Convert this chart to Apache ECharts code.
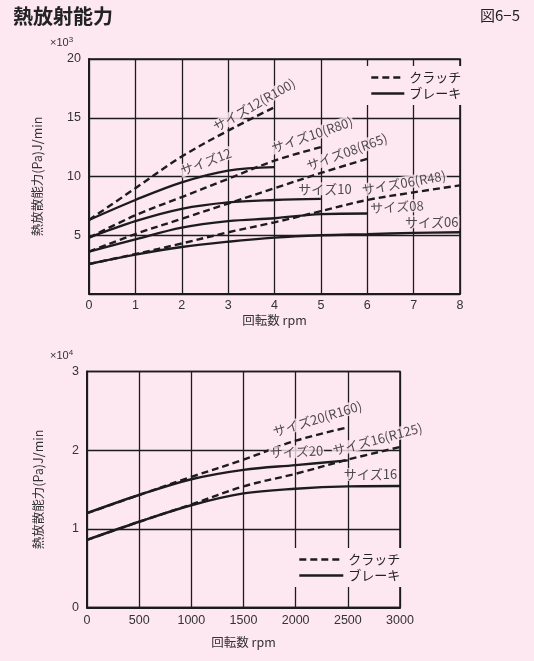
<!DOCTYPE html>
<html>
<head>
<meta charset="utf-8">
<script src="https://cdn.jsdelivr.net/npm/echarts@6/dist/echarts.min.js"></script>
<style>
  html, body { margin: 0; padding: 0; background: #fde7f1; }
  #chart { width: 534px; height: 661px; }
</style>
</head>
<body>
<div id="chart"></div>
<script>
// ---- upper chart: heat dissipation (x10^3 J/min) vs speed ----
const rpmTop = [0, 1, 2, 3, 4, 5, 6, 7, 8];
const clutch12 = [6.3, 9.0, 11.7, 13.9, 15.9];
const brake12  = [6.3, 8.0, 9.5, 10.5, 10.8];
const clutch10 = [4.8, 6.7, 8.25, 9.8, 11.35, 12.5];
const brake10  = [4.8, 6.2, 7.25, 7.8, 8.0, 8.1];
const clutch08 = [3.6, 5.1, 6.4, 7.7, 9.0, 10.3, 11.5];
const brake08  = [3.6, 4.65, 5.65, 6.2, 6.45, 6.8, 6.85];
const clutch06 = [2.55, 3.4, 4.3, 5.25, 6.1, 7.05, 8.0, 8.65, 9.25];
const brake06  = [2.55, 3.35, 4.0, 4.45, 4.8, 5.0, 5.1, 5.2, 5.25];

// ---- lower chart: heat dissipation (x10^4 J/min) vs speed ----
const rpmBottom = [0, 500, 1000, 1500, 2000, 2500, 3000];
const clutch20 = [1.2, 1.43, 1.66, 1.88, 2.12, 2.29];
const brake20  = [1.2, 1.43, 1.63, 1.75, 1.81, 1.87];
const clutch16 = [0.86, 1.09, 1.31, 1.54, 1.70, 1.88, 2.04];
const brake16  = [0.86, 1.09, 1.30, 1.45, 1.51, 1.54, 1.545];

// curve captions: [text, x, y, rotation in degrees]
const topCaptions = [
  ['サイズ12(R100)', 3.56, 16.1, 30],
  ['サイズ12', 2.52, 11.25, 21],
  ['サイズ10(R80)', 4.81, 13.55, 19],
  ['サイズ08(R65)', 5.56, 12.1, 20],
  ['サイズ10', 5.09, 8.95, 0],
  ['サイズ06(R48)', 6.79, 9.46, 10],
  ['サイズ08', 6.64, 7.42, 3],
  ['サイズ06', 7.39, 6.14, 0]
];
const bottomCaptions = [
  ['サイズ20(R160)', 2208, 2.40, 17],
  ['サイズ20', 2007, 1.98, 3],
  ['サイズ16(R125)', 2784, 2.14, 15],
  ['サイズ16', 2717, 1.69, 0]
];

const BG = '#fde7f1';
const INK = '#1c1c1c';
const CJK = '"Noto Sans CJK JP", "Noto Sans", sans-serif';
const NUM = '"Liberation Sans", Arial, sans-serif';

function pairs(xs, ys) {
  return ys.map((y, i) => [xs[i], y]);
}

function curve(name, xs, ys, dashed, gi) {
  return {
    type: 'line',
    name: name,
    xAxisIndex: gi,
    yAxisIndex: gi,
    data: pairs(xs, ys),
    smooth: 0.35,
    showSymbol: false,
    symbol: 'none',
    silent: true,
    z: 3,
    lineStyle: { color: INK, width: 2.4, type: dashed ? [7, 4] : 'solid' },
    itemStyle: { color: INK }
  };
}

function captions(list, gi) {
  return {
    type: 'scatter',
    xAxisIndex: gi,
    yAxisIndex: gi,
    symbolSize: 0,
    silent: true,
    z: 5,
    data: list.map(c => ({
      value: [c[1], c[2]],
      label: {
        show: true,
        position: 'inside',
        formatter: c[0],
        rotate: c[3],
        fontSize: 13,
        fontFamily: CJK,
        color: '#222',
        backgroundColor: BG,
        padding: [0, 1]
      }
    }))
  };
}

const axisLabelStyle = { color: '#333', fontSize: 12.5, fontFamily: NUM, formatter: v => String(v) };
const splitStyle = { show: true, lineStyle: { color: INK, width: 1.3 } };
const axisLineStyle = { show: true, lineStyle: { color: INK, width: 2 } };

function legendAt(left, top, lineWidth) {
  return {
    data: ['クラッチ', 'ブレーキ'], orient: 'vertical', left: left, top: top,
    itemWidth: lineWidth, itemHeight: 14, itemGap: 3, padding: 5,
    backgroundColor: BG, selectedMode: false,
    itemStyle: { opacity: 0 },
    lineStyle: { width: 2.6 },
    textStyle: { color: '#222', fontSize: 13, fontFamily: CJK }
  };
}

const chart = echarts.init(document.getElementById('chart'), null, { renderer: 'canvas' });

chart.setOption({
  backgroundColor: BG,
  animation: false,
  grid: [
    { left: 89, top: 59, width: 371, height: 235, show: true, borderColor: INK, borderWidth: 1.6, backgroundColor: 'transparent' },
    { left: 87, top: 371.5, width: 313, height: 236, show: true, borderColor: INK, borderWidth: 1.6, backgroundColor: 'transparent' }
  ],
  xAxis: [
    {
      gridIndex: 0, type: 'value', min: 0, max: 8, interval: 1,
      axisLine: axisLineStyle, axisTick: { show: false },
      axisLabel: Object.assign({}, axisLabelStyle, { margin: 5 }),
      splitLine: splitStyle,
      name: '回転数 rpm', nameLocation: 'middle', nameGap: 20,
      nameTextStyle: { color: '#333', fontSize: 12.5, fontFamily: CJK }
    },
    {
      gridIndex: 1, type: 'value', min: 0, max: 3000, interval: 500,
      axisLine: axisLineStyle, axisTick: { show: false },
      axisLabel: Object.assign({}, axisLabelStyle, { margin: 7 }),
      splitLine: splitStyle,
      name: '回転数 rpm', nameLocation: 'middle', nameGap: 28,
      nameTextStyle: { color: '#333', fontSize: 12.5, fontFamily: CJK }
    }
  ],
  yAxis: [
    {
      gridIndex: 0, type: 'value', min: 0, max: 20, interval: 5,
      axisLine: axisLineStyle, axisTick: { show: false },
      axisLabel: Object.assign({}, axisLabelStyle, { margin: 8, formatter: v => (v === 0 ? '' : String(v)) }),
      splitLine: splitStyle,
      name: '熱放散能力(Pa)J/min', nameLocation: 'middle', nameGap: 45,
      nameTextStyle: { color: '#333', fontSize: 12.5, fontFamily: CJK }
    },
    {
      gridIndex: 1, type: 'value', min: 0, max: 3, interval: 1,
      axisLine: axisLineStyle, axisTick: { show: false },
      axisLabel: Object.assign({}, axisLabelStyle, { margin: 8 }),
      splitLine: splitStyle,
      name: '熱放散能力(Pa)J/min', nameLocation: 'middle', nameGap: 42,
      nameTextStyle: { color: '#333', fontSize: 12.5, fontFamily: CJK }
    }
  ],
  legend: [legendAt(365, 66, 33), legendAt(293, 548, 44)],
  graphic: [
    { type: 'text', left: 13, top: 6, style: { text: '熱放射能力', fontSize: 20, fontWeight: 'bold', fontFamily: CJK, fill: '#222' } },
    { type: 'text', right: 14, top: 8, style: { text: '図6−5', fontSize: 15, fontFamily: CJK, fill: '#222' } },
    { type: 'text', left: 50, top: 36, style: { text: '{a|×10}{b|3}', rich: { a: { fontSize: 11, fontFamily: NUM, fill: '#333' }, b: { fontSize: 8, fontFamily: NUM, fill: '#333', padding: [0, 0, 5, 0] } } } },
    { type: 'text', left: 50, top: 349, style: { text: '{a|×10}{b|4}', rich: { a: { fontSize: 11, fontFamily: NUM, fill: '#333' }, b: { fontSize: 8, fontFamily: NUM, fill: '#333', padding: [0, 0, 5, 0] } } } }
  ],
  series: [
    curve('クラッチ', rpmTop, clutch12, true, 0),
    curve('ブレーキ', rpmTop, brake12, false, 0),
    curve('クラッチ', rpmTop, clutch10, true, 0),
    curve('ブレーキ', rpmTop, brake10, false, 0),
    curve('クラッチ', rpmTop, clutch08, true, 0),
    curve('ブレーキ', rpmTop, brake08, false, 0),
    curve('クラッチ', rpmTop, clutch06, true, 0),
    curve('ブレーキ', rpmTop, brake06, false, 0),
    curve('クラッチ', rpmBottom, clutch20, true, 1),
    curve('ブレーキ', rpmBottom, brake20, false, 1),
    curve('クラッチ', rpmBottom, clutch16, true, 1),
    curve('ブレーキ', rpmBottom, brake16, false, 1),
    captions(topCaptions, 0),
    captions(bottomCaptions, 1)
  ]
});
</script>
</body>
</html>
